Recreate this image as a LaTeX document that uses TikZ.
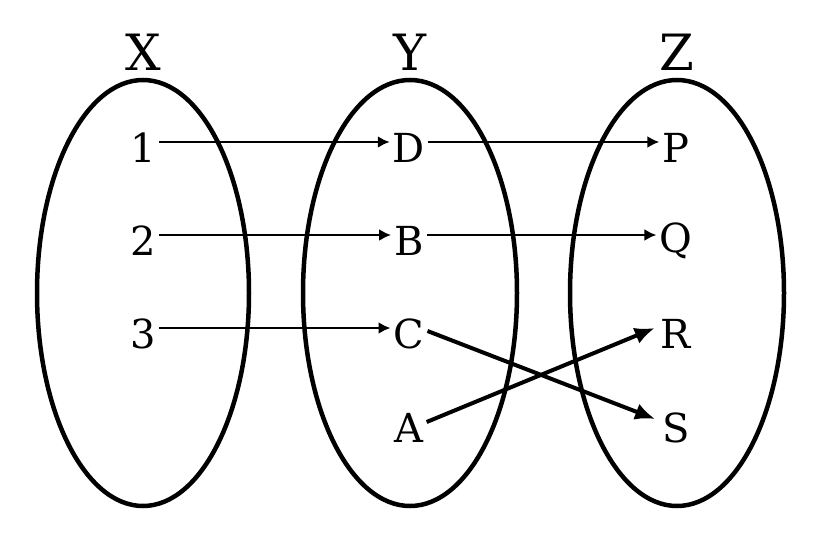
\documentclass[tikz,border=0pt]{standalone}
\usepackage{fontspec}
\setmainfont{DejaVu Serif}
\usetikzlibrary{arrows.meta}
\tikzset{
  set-ellipse/.style={draw, line width=4.5pt},
  set-name/.style={font=\fontsize{50}{60}\selectfont},
  element/.style={font=\fontsize{40}{48}\selectfont, inner sep=3pt},
  map-path/.style={line width=2.5pt, -{Latex[length=12pt,width=12pt]}},
  cross-path/.style={line width=4pt, -{Latex[length=20pt,width=17pt]}},
}
\begin{document}
\begin{tikzpicture}[x=1pt, y=-1pt]
\useasboundingbox[fill=white] (0,0) rectangle (820,533);
% the three sets
\draw[set-ellipse] (143,293) ellipse [x radius=106, y radius=213];
\draw[set-ellipse] (410,293) ellipse [x radius=107, y radius=213];
\draw[set-ellipse] (677,293) ellipse [x radius=107, y radius=213];
\node[set-name] (nameX) at (143,52) {X};
\node[set-name] (nameY) at (410,52) {Y};
\node[set-name] (nameZ) at (677,52) {Z};
% elements
\node[element] (x1) at (143,148) {1};
\node[element] (x2) at (143,241) {2};
\node[element] (x3) at (143,334) {3};
\node[element] (yD) at (409,148) {D};
\node[element] (yB) at (409,241) {B};
\node[element] (yC) at (409,334) {C};
\node[element] (yA) at (409,428) {A};
\node[element] (zP) at (676,148) {P};
\node[element] (zQ) at (676,241) {Q};
\node[element] (zR) at (676,334) {R};
\node[element] (zS) at (676,428) {S};
% maps
\foreach \from/\to in {x1/yD, x2/yB, x3/yC, yD/zP, yB/zQ}
  \draw[map-path] ([yshift=6pt]\from.east) -- ([yshift=6pt]\to.west);
\draw[cross-path] ([yshift=3pt]yC.east) -- ([xshift=-4pt,yshift=9pt]zS.west);
\draw[cross-path] ([yshift=6pt]yA.east) -- ([xshift=-3pt,yshift=6pt]zR.west);
\end{tikzpicture}
\end{document}
